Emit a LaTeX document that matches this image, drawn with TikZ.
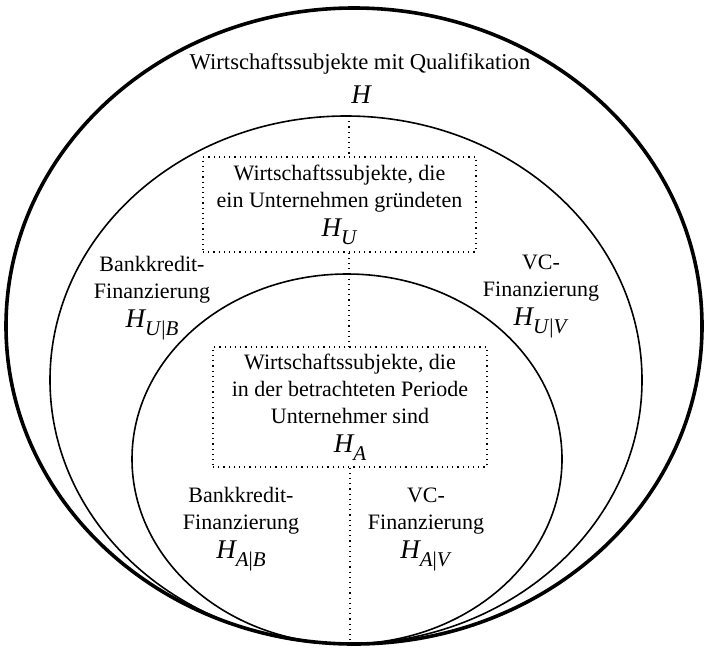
\documentclass[tikz,border=0pt]{standalone}
\usepackage{fontspec}
\setmainfont{Liberation Serif}
\newcommand\Hsym{{\fontsize{13.5}{14}\selectfont\itshape H}}
\newcommand\Hsub[1]{\Hsym\raisebox{-4pt}{\fontsize{10.5}{11}\selectfont #1}}
\begin{document}
\begin{tikzpicture}[x=0.5pt,y=-0.5pt,
  lbl/.style={font=\fontsize{11}{13.5}\selectfont, align=center, inner sep=0pt},
  dbox/.style={lbl, draw, dotted, line width=0.6pt},
  dline/.style={draw, dotted, line width=0.6pt},
  thickring/.style={draw, line width=1.8pt},
  thinring/.style={draw, line width=0.8pt}]
\useasboundingbox (0,0) rectangle (704,648);
% ellipses
\draw[thickring] (354,326) ellipse [x radius=174pt, y radius=159pt];
\draw[thinring] (346,380) ellipse [x radius=148pt, y radius=132pt];
\draw[thinring] (347,459) ellipse [x radius=107.5pt, y radius=92.5pt];
% texts
\node[lbl, font=\fontsize{11.3}{14}\selectfont] (tH) at (360,64) {Wirtschaftssubjekte mit Qualifikation};
\node[lbl] (H) at (361,95) {\Hsym};
\node[dbox, minimum width=136.5pt, minimum height=47.5pt] (Ubox) at (339.5,204.5)
  {Wirtschaftssubjekte, die\\ein Unternehmen gründeten\\[1pt]\Hsub{\textit{U}}};
\node[dbox, minimum width=137pt, minimum height=60pt] (Abox) at (350,407)
  {Wirtschaftssubjekte, die\\in der betrachteten Periode\\Unternehmer sind\\[1pt]\Hsub{\textit{A}}};
\node[lbl] (UB) at (152,298) {Bankkredit-\\Finanzierung\\[1pt]\Hsub{\textit{U}|\textit{B}}};
\node[lbl] (UV) at (541,296) {VC-\\Finanzierung\\[1pt]\Hsub{\textit{U}|\textit{V}}};
\node[lbl] (AB) at (241,529) {Bankkredit-\\Finanzierung\\[1pt]\Hsub{\textit{A}|\textit{B}}};
\node[lbl] (AV) at (426,529) {VC-\\Finanzierung\\[1pt]\Hsub{\textit{A}|\textit{V}}};
% dotted connectors
\coordinate (mtop) at (349,116);
\coordinate (bot) at (350,644);
\draw[dline] (mtop) -- (mtop |- Ubox.north);
\draw[dline] (mtop |- Ubox.south) -- (mtop |- Abox.north);
\draw[dline] (bot |- Abox.south) -- (bot);
\end{tikzpicture}
\end{document}
